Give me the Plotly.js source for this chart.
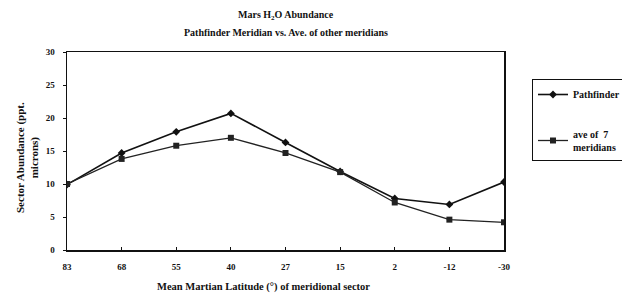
<!DOCTYPE html>
<html>
<head>
<meta charset="utf-8">
<script src="https://cdn.plot.ly/plotly-3.0.1.min.js"></script>
<style>html,body{margin:0;padding:0;background:#fff;}#chart{width:622px;height:299px;}</style>
</head>
<body>
<div id="chart"></div>
<script>
var latitudes = ["83", "68", "55", "40", "27", "15", "2", "-12", "-30"];
var pathfinder = [9.9, 14.7, 17.9, 20.7, 16.3, 11.9, 7.8, 6.9, 10.3];
var aveOf7 = [10.0, 13.8, 15.8, 17.0, 14.7, 11.8, 7.2, 4.6, 4.2];
var yTicks = [0, 5, 10, 15, 20, 25, 30];
var titleLine1 = "Mars H<sub>2</sub>O Abundance";
var titleLine2 = "Pathfinder Meridian vs. Ave. of other meridians";
var xTitle = "Mean Martian Latitude (°) of meridional sector";
var yTitle = "Sector Abundance (ppt.<br>microns)";

var serif = "Liberation Serif, Times New Roman, serif";
var traces = [
  {
    x: latitudes, y: pathfinder, name: "Pathfinder", type: "scatter", mode: "lines+markers",
    legendgroup: "a",
    line: {color: "#111", width: 1.6},
    marker: {symbol: "diamond", size: 6, color: "#111"}
  },
  {
    x: latitudes, y: aveOf7, name: "ave of  7<br>meridians", type: "scatter", mode: "lines+markers",
    legendgroup: "b",
    line: {color: "#222", width: 1.3},
    marker: {symbol: "square", size: 6, color: "#222"}
  }
];

var layout = {
  width: 622, height: 299,
  margin: {l: 67, r: 118, t: 52, b: 49, autoexpand: false},
  paper_bgcolor: "#fff", plot_bgcolor: "#fff",
  font: {family: serif, size: 9, color: "#111", weight: "bold"},
  showlegend: true,
  annotations: [
    {text: titleLine1, xref: "paper", yref: "paper", x: 0.5, y: 1 + 37 / 198, xanchor: "center", yanchor: "middle",
     showarrow: false, font: {family: serif, size: 10, color: "#111", weight: "bold"}},
    {text: titleLine2, xref: "paper", yref: "paper", x: 0.5, y: 1 + 19 / 198, xanchor: "center", yanchor: "middle",
     showarrow: false, font: {family: serif, size: 10, color: "#111", weight: "bold"}},
    {text: xTitle, xref: "paper", yref: "paper", x: (263 - 67) / 437, y: -37 / 198, xanchor: "center", yanchor: "middle",
     showarrow: false, font: {family: serif, size: 10.5, color: "#111", weight: "bold"}},
    {text: yTitle, xref: "paper", yref: "paper", x: (27 - 67) / 437, y: (250 - 158) / 198, xanchor: "center", yanchor: "middle",
     textangle: -90, align: "center",
     showarrow: false, font: {family: serif, size: 11, color: "#111", weight: "bold"}}
  ],
  xaxis: {
    type: "category", range: [0, 8],
    showline: true, linecolor: "#111", linewidth: 1.5, mirror: true,
    ticks: "inside", ticklen: 3, tickcolor: "#111",
    showgrid: false, zeroline: false, ticklabelstandoff: 8,
    tickfont: {family: serif, size: 9, color: "#111", weight: "bold"}
  },
  yaxis: {
    range: [0, 30], tickvals: yTicks,
    showline: true, linecolor: "#111", linewidth: 1.5, mirror: true,
    ticks: "outside", ticklen: 3, tickcolor: "#111",
    showgrid: false, zeroline: false, ticklabelstandoff: 6,
    tickfont: {family: serif, size: 9, color: "#111", weight: "bold"}
  },
  legend: {
    x: (532 - 67) / 437, xanchor: "left", y: 1 - 27 / 198, yanchor: "top",
    bgcolor: "#fff", bordercolor: "#111", borderwidth: 1,
    font: {family: serif, size: 10, color: "#111", weight: "bold"},
    tracegroupgap: 22, itemwidth: 30
  }
};

Plotly.newPlot("chart", traces, layout, {displayModeBar: false, staticPlot: true});
</script>
</body>
</html>
